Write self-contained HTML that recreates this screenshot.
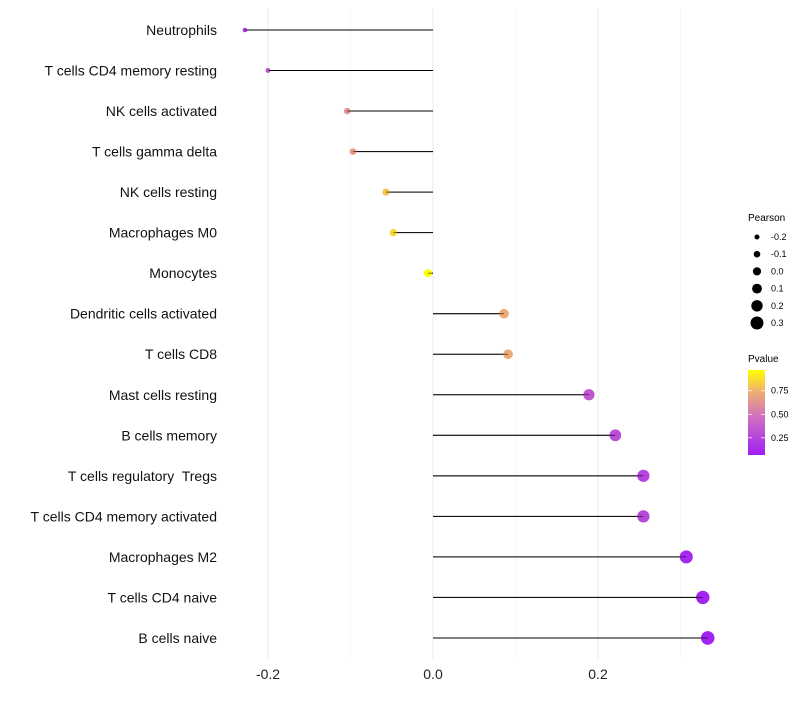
<!DOCTYPE html>
<html><head><meta charset="utf-8"><style>
body{margin:0;background:#fff;font-family:"Liberation Sans",sans-serif;}
text{white-space:pre;}
</style></head><body>
<svg id="chart" width="800" height="700" xmlns="http://www.w3.org/2000/svg">
<defs><linearGradient id="pg" x1="0" y1="1" x2="0" y2="0">
<stop offset="0" stop-color="#a01ff5"/><stop offset="0.45" stop-color="#d070c0"/><stop offset="0.75" stop-color="#f0b070"/><stop offset="1" stop-color="#ffff00"/></linearGradient></defs>
<g id="grid"></g><g id="marks"></g><g id="labels"></g>
<g font-size="9" fill="#000">
<text x="748" y="221" font-size="10">Pearson</text>
<g id="sizeLegend"></g>
</g>
<g font-size="9">
<text x="748" y="362" font-size="10">Pvalue</text>
<rect x="748" y="370" width="17" height="85" fill="url(#pg)"/>
<g id="colorLegend"></g>
</g>
</svg>
<script>
const categories=["Neutrophils","T cells CD4 memory resting","NK cells activated","T cells gamma delta","NK cells resting","Macrophages M0","Monocytes","Dendritic cells activated","T cells CD8","Mast cells resting","B cells memory","T cells regulatory  Tregs","T cells CD4 memory activated","Macrophages M2","T cells CD4 naive","B cells naive"];
const pearson=[-0.228,-0.2,-0.104,-0.097,-0.057,-0.048,-0.006,0.086,0.091,0.189,0.221,0.255,0.255,0.307,0.327,0.333];
const pvalue=[0.2,0.35,0.62,0.66,0.8,0.86,0.98,0.72,0.72,0.35,0.3,0.25,0.27,0.12,0.1,0.09];
const xTicks=[-0.2,0,0.2];
const xTickLabels=["-0.2","0.0","0.2"];
const sizeLegendVals=[-0.2,-0.1,0,0.1,0.2,0.3];
const colorLegendVals=[0.25,0.5,0.75];
const NS="http://www.w3.org/2000/svg";
const x=v=>433+v*825;
const y=i=>30+i*40.53;
const r=v=>2.5+(v+0.2)*8;
const cy=p=>455-(p-0.068)/(0.97-0.068)*85;
function lerp(a,b,t){return a.map((c,i)=>Math.round(c+(b[i]-c)*t));}
const stops=[[0,[160,31,245]],[0.45,[208,112,192]],[0.75,[240,176,112]],[1,[255,255,0]]];
function col(p){let t=(p-0.068)/(0.97-0.068);t=Math.max(0,Math.min(1,t));for(let i=1;i<stops.length;i++){if(t<=stops[i][0]){const s=stops[i-1],e=stops[i];const c=lerp(s[1],e[1],(t-s[0])/(e[0]-s[0]));return `rgb(${c})`;}}return "yellow";}
function mk(tag,attrs,parent){const e=document.createElementNS(NS,tag);for(const k in attrs)e.setAttribute(k,attrs[k]);parent.appendChild(e);return e;}
const grid=document.getElementById('grid'),marks=document.getElementById('marks'),labels=document.getElementById('labels');
[-0.1,0.1,0.3].forEach(v=>{const l=mk('line',{x1:x(v),x2:x(v),y1:8,y2:660,stroke:'#f3f3f3','stroke-width':0.6},grid);

});
xTicks.forEach((v,i)=>{const l=mk('line',{x1:x(v),x2:x(v),y1:8,y2:660,stroke:'#ebebeb','stroke-width':1},grid);


const t=mk('text',{x:x(v),y:679,'text-anchor':'middle','font-size':14,fill:'#222'},labels);t.textContent=xTickLabels[i];

});
categories.forEach((c,i)=>{
const t=mk('text',{x:217,y:y(i)+5,'text-anchor':'end','font-size':14,fill:'#111'},labels);t.textContent=c;


const l=mk('line',{x1:x(0),x2:x(pearson[i]),y1:y(i),y2:y(i),stroke:'#000','stroke-width':1},marks);


const d=mk('circle',{cx:x(pearson[i]),cy:y(i),r:r(pearson[i]),fill:col(pvalue[i])},marks);


const l2=mk('line',{x1:x(0),x2:x(pearson[i]),y1:y(i),y2:y(i),stroke:'#000','stroke-width':0.8,'stroke-opacity':0.7},marks);


});
const sl=document.getElementById('sizeLegend');
sizeLegendVals.forEach((v,i)=>{const yy=237+i*17.2;
const c=mk('circle',{cx:757,cy:yy,r:r(v),fill:'#000'},sl);


const t=mk('text',{x:771,y:yy+3},sl);t.textContent=v.toFixed(1);

});
const cl=document.getElementById('colorLegend');
colorLegendVals.forEach(v=>{const yy=cy(v);
const a=mk('line',{x1:748,x2:752,y1:yy,y2:yy,stroke:'#fff','stroke-width':0.7},cl);


const b=mk('line',{x1:761,x2:765,y1:yy,y2:yy,stroke:'#fff','stroke-width':0.7},cl);


const t=mk('text',{x:771,y:yy+3},cl);t.textContent=v.toFixed(2);

});
</script>
</body></html>
